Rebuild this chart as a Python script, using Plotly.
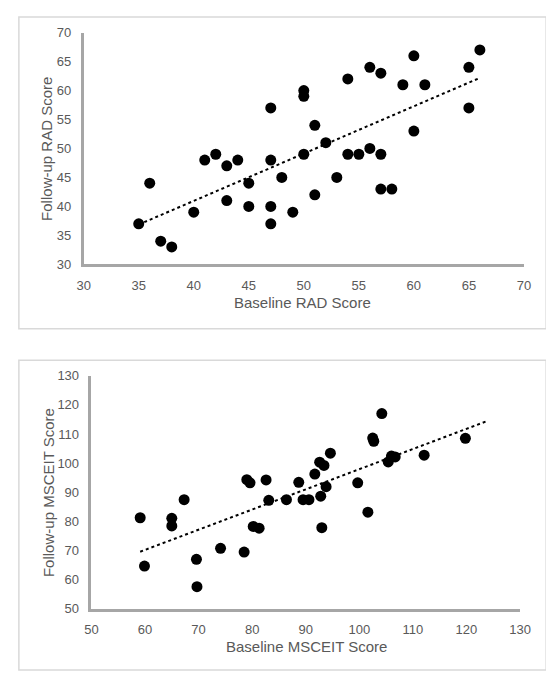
import numpy as np
import plotly.graph_objects as go

# ---- Data ----
rad_baseline = [35, 36, 37, 38, 40, 41, 42, 43, 43, 44, 45, 45, 47, 47, 47, 47, 48, 49,
                50, 50, 50, 51, 51, 52, 53, 54, 54, 55, 56, 56, 57, 57, 57, 58, 59, 60,
                60, 61, 65, 65, 66]
rad_followup = [37, 44, 34, 33, 39, 48, 49, 47, 41, 48, 44, 40, 57, 48, 40, 37, 45, 39,
                60, 59, 49, 54, 42, 51, 45, 62, 49, 49, 64, 50, 63, 49, 43, 43, 61, 66,
                53, 61, 64, 57, 67]

msceit_baseline = [59.1, 59.9, 65.0, 65.0, 67.3, 69.6, 69.7, 74.1, 78.5, 79.0, 79.6, 80.2,
                   81.3, 82.6, 83.1, 86.4, 88.7, 89.5, 90.6, 91.7, 92.8, 92.6, 93.4, 93.0,
                   93.8, 94.6, 99.7, 101.6, 102.5, 102.7, 104.2, 105.4, 106.0, 106.7,
                   112.1, 119.8]
msceit_followup = [81.2, 64.6, 81.0, 78.4, 87.4, 66.9, 57.5, 70.7, 69.4, 94.3, 93.2, 78.2,
                   77.6, 94.2, 87.2, 87.4, 93.4, 87.4, 87.4, 96.2, 88.6, 100.3, 99.2, 77.8,
                   91.9, 103.4, 93.2, 83.1, 108.6, 107.5, 117.0, 100.4, 102.4, 102.1,
                   102.7, 108.5]
msceit_trend_end = 124  # Excel trendline forward forecast end

rad_ticks = [30, 35, 40, 45, 50, 55, 60, 65, 70]
msceit_ticks = [50, 60, 70, 80, 90, 100, 110, 120, 130]

# ---- Styling ----
W, H = 554, 675
FONT = "Liberation Sans, Arial, sans-serif"
TXT = "#595959"
AXC = "#a6a6a6"


def px_x(p):
    return p / W


def px_y(p):
    return 1 - p / H


def trend(x, y, x_end=None):
    a, b = np.polyfit(np.array(x, float), np.array(y, float), 1)
    x0 = min(x)
    x1 = max(x) if x_end is None else x_end
    xs = np.array([x0, x1])
    return xs, a * xs + b


fig = go.Figure()

fig.add_trace(go.Scatter(x=rad_baseline, y=rad_followup, mode="markers",
                         marker=dict(color="black", size=11),
                         xaxis="x", yaxis="y", showlegend=False))
tx, ty = trend(rad_baseline, rad_followup)
fig.add_trace(go.Scatter(x=tx, y=ty, mode="lines",
                         line=dict(color="black", width=2, dash="dot"),
                         xaxis="x", yaxis="y", showlegend=False))

fig.add_trace(go.Scatter(x=msceit_baseline, y=msceit_followup, mode="markers",
                         marker=dict(color="black", size=11),
                         xaxis="x2", yaxis="y2", showlegend=False))
tx2, ty2 = trend(msceit_baseline, msceit_followup, msceit_trend_end)
fig.add_trace(go.Scatter(x=tx2, y=ty2, mode="lines",
                         line=dict(color="black", width=2, dash="dot"),
                         xaxis="x2", yaxis="y2", showlegend=False))

axis_common = dict(showgrid=False, zeroline=False, showline=True, linecolor=AXC,
                   linewidth=2.5, ticks="outside", ticklen=7,
                   tickcolor="rgba(0,0,0,0)",
                   tickfont=dict(family=FONT, size=13, color=TXT), mirror=False)

fig.update_layout(
    width=W, height=H,
    margin=dict(l=0, r=0, t=0, b=0),
    paper_bgcolor="white", plot_bgcolor="white",
    xaxis=dict(domain=[px_x(71), px_x(526)], range=[30, 70], tickvals=rad_ticks,
               anchor="y", **axis_common),
    yaxis=dict(domain=[px_y(255), px_y(18)], range=[30, 70], tickvals=rad_ticks,
               anchor="x", **axis_common),
    xaxis2=dict(domain=[px_x(79), px_x(522)], range=[50, 130], tickvals=msceit_ticks,
                anchor="y2", **axis_common),
    yaxis2=dict(domain=[px_y(607), px_y(369)], range=[50, 130], tickvals=msceit_ticks,
                anchor="x2", **axis_common),
    shapes=[
        dict(type="rect", xref="paper", yref="paper",
             x0=px_x(4), x1=px_x(549), y0=px_y(321), y1=px_y(2),
             line=dict(color="#d9d9d9", width=1.5)),
        dict(type="rect", xref="paper", yref="paper",
             x0=px_x(4), x1=px_x(549), y0=px_y(670), y1=px_y(353),
             line=dict(color="#d9d9d9", width=1.5)),
    ],
    annotations=[
        dict(text="Baseline RAD Score", xref="paper", yref="paper",
             x=px_x(297), y=px_y(294), xanchor="center", yanchor="middle",
             showarrow=False, font=dict(family=FONT, size=15, color=TXT)),
        dict(text="Follow-up RAD Score", xref="paper", yref="paper",
             x=px_x(33), y=px_y(137), xanchor="center", yanchor="middle",
             textangle=-90, showarrow=False, font=dict(family=FONT, size=15, color=TXT)),
        dict(text="Baseline MSCEIT Score", xref="paper", yref="paper",
             x=px_x(301), y=px_y(646), xanchor="center", yanchor="middle",
             showarrow=False, font=dict(family=FONT, size=15, color=TXT)),
        dict(text="Follow-up MSCEIT Score", xref="paper", yref="paper",
             x=px_x(34), y=px_y(488), xanchor="center", yanchor="middle",
             textangle=-90, showarrow=False, font=dict(family=FONT, size=15, color=TXT)),
    ],
)

fig.write_html("out.html")
